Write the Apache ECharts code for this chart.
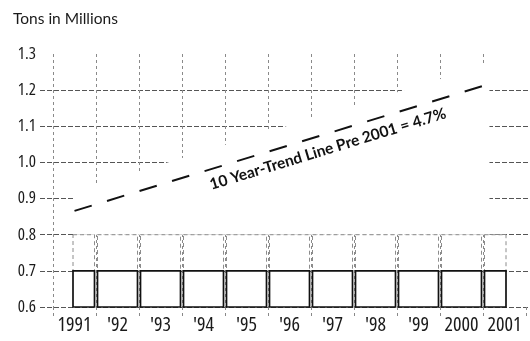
<!DOCTYPE html>
<html>
<head>
<meta charset="utf-8">
<script src="https://cdn.jsdelivr.net/npm/echarts@6/dist/echarts.min.js"></script>
<style>
  html, body { margin: 0; padding: 0; background: #ffffff; }
  #chart { width: 530px; height: 341px; }
</style>
</head>
<body>
<div id="chart"></div>
<script>
// Yearly tonnage blocks, 1991-2001
const years = [1991, 1992, 1993, 1994, 1995, 1996, 1997, 1998, 1999, 2000, 2001];
const yearLabels = ['1991', "'92", "'93", "'94", "'95", "'96", "'97", "'98", "'99", '2000', '2001'];
const lowerTops = [0.7, 0.7, 0.7, 0.7, 0.7, 0.7, 0.7, 0.7, 0.7, 0.7, 0.7];
const upperTops = [0.8, 0.8, 0.8, 0.8, 0.8, 0.8, 0.8, 0.8, 0.8, 0.8, 0.8];

// Ten-year trend line (start and end points)
const trendYears = [1991, 2000.65];
const trendValues = [0.866, 1.217];
const trendLabel = '10 Year-Trend Line Pre 2001 = 4.7%';

// Value axis
const yMin = 0.6;
const yMax = 1.3;
const yStep = 0.1;
const unitTitle = 'Tons in Millions';

// Canvas ignores the width keyword inside the font shorthand, so a font
// string carrying "condensed" is split into font + fontStretch here.
(function () {
  const proto = CanvasRenderingContext2D.prototype;
  const desc = Object.getOwnPropertyDescriptor(proto, 'font');
  if (!desc || !('fontStretch' in proto)) return;
  Object.defineProperty(proto, 'font', {
    configurable: true,
    get: function () { return desc.get.call(this); },
    set: function (v) {
      const narrow = typeof v === 'string' && v.indexOf('condensed') >= 0;
      desc.set.call(this, narrow ? v.replace('condensed', ' ').replace(/\s+/g, ' ').trim() : v);
      this.fontStretch = narrow ? 'condensed' : 'normal';
    }
  });
})();

const NARROW = "'Open Sans', Roboto, sans-serif";
const GEO = "Lato, 'Noto Sans', sans-serif";

const TOP = 54, BOTTOM = 34;

const chart = echarts.init(document.getElementById('chart'), null, { renderer: 'canvas' });

// One block (bar segment) per year, clipped to the plotting area at both ends
function blockItem(style) {
  return function (params, api) {
    const x = api.value(0), lo = api.value(1), hi = api.value(2);
    const band = api.size([1, 0])[0];
    const w = band - 3;
    const pLo = api.coord([x, lo]);
    const pHi = api.coord([x, hi]);
    const cs = params.coordSys;
    const x0 = Math.max(pLo[0] - w / 2, cs.x - 1.5);
    const x1 = Math.min(pLo[0] + w / 2, cs.x + cs.width + 1.5);
    return {
      type: 'rect',
      shape: { x: x0, y: pHi[1], width: x1 - x0, height: pLo[1] - pHi[1] },
      style: style
    };
  };
}

const lowerData = years.map((y, i) => [y, yMin, lowerTops[i]]);
const upperData = years.map((y, i) => [y, lowerTops[i], upperTops[i]]);
const trendData = trendYears.map((y, i) => [y, trendValues[i]]);
const blockTop = Math.max.apply(null, upperTops);

chart.setOption({
  animation: false,
  backgroundColor: '#ffffff',
  title: {
    text: unitTitle,
    left: 8,
    top: 6,
    textStyle: { fontFamily: GEO, fontSize: 15.5, fontWeight: 'normal', color: '#1a1a1a' }
  },
  grid: [
    { left: 40, right: 0, top: TOP, bottom: BOTTOM },
    { left: 53, right: 4, top: TOP, bottom: BOTTOM },
    { left: 74.5, right: 25.5, top: TOP, bottom: BOTTOM }
  ],
  xAxis: [
    { gridIndex: 0, type: 'value', min: 0, max: 1, show: false },
    {
      gridIndex: 1,
      type: 'category',
      data: yearLabels,
      boundaryGap: true,
      axisLine: { show: false },
      axisTick: {
        show: true, interval: 0, length: 12,
        lineStyle: { color: '#888', width: 1, type: [3, 3] }
      },
      axisLabel: {
        interval: 0, margin: 8,
        fontFamily: NARROW, fontWeight: 'condensed', fontSize: 20, color: '#1a1a1a'
      },
      splitLine: {
        show: true, interval: 0, showMaxLine: false,
        lineStyle: { color: '#8a8a8a', width: 1, type: [3, 3] }
      }
    },
    { gridIndex: 2, type: 'value', min: years[0], max: years[years.length - 1], show: false }
  ],
  yAxis: [
    {
      gridIndex: 0,
      type: 'value',
      min: yMin, max: yMax, interval: yStep,
      axisLine: { show: false },
      axisTick: { show: false },
      axisLabel: {
        margin: 4,
        fontFamily: NARROW, fontWeight: 'condensed', fontSize: 17, color: '#1a1a1a',
        formatter: v => v.toFixed(1)
      },
      splitLine: {
        show: true, showMaxLine: false,
        lineStyle: { color: '#555', width: 1, type: [5, 2] }
      }
    },
    { gridIndex: 1, type: 'value', min: yMin, max: yMax, show: false },
    { gridIndex: 2, type: 'value', min: yMin, max: yMax, show: false }
  ],
  series: [
    {
      // white halo that keeps the label zone around the trend line clear
      type: 'custom',
      xAxisIndex: 2, yAxisIndex: 2,
      z: 1,
      silent: true,
      data: [0],
      renderItem: function (params, api) {
        const halo = 0.055;
        const pts = [
          api.coord([trendYears[0], trendValues[0] + halo]),
          api.coord([trendYears[1], trendValues[1] + halo]),
          api.coord([trendYears[1], blockTop]),
          api.coord([trendYears[0], blockTop])
        ];
        return { type: 'polygon', shape: { points: pts }, style: { fill: '#ffffff' } };
      }
    },
    {
      type: 'custom',
      name: 'upper',
      xAxisIndex: 2, yAxisIndex: 2,
      z: 3,
      data: upperData,
      renderItem: blockItem({ fill: '#ffffff', stroke: '#8c8c8c', lineWidth: 1, lineDash: [4, 3] })
    },
    {
      type: 'custom',
      name: 'lower',
      xAxisIndex: 2, yAxisIndex: 2,
      z: 4,
      data: lowerData,
      renderItem: blockItem({ fill: '#ffffff', stroke: '#111111', lineWidth: 1.7 })
    },
    {
      type: 'line',
      name: 'trend',
      xAxisIndex: 2, yAxisIndex: 2,
      z: 5,
      data: trendData,
      symbol: 'none',
      lineStyle: { color: '#111111', width: 2, type: [18, 16] }
    },
    {
      // trend label, set along the line just beneath it
      type: 'custom',
      xAxisIndex: 2, yAxisIndex: 2,
      z: 6,
      silent: true,
      data: [0],
      renderItem: function (params, api) {
        const p0 = api.coord(trendData[0]);
        const p1 = api.coord(trendData[1]);
        const dx = p1[0] - p0[0], dy = p1[1] - p0[1];
        const len = Math.sqrt(dx * dx + dy * dy);
        const t = 0.6, off = 15;
        const cx = p0[0] + dx * t + (-dy / len) * off;
        const cy = p0[1] + dy * t + (dx / len) * off;
        return {
          type: 'text',
          x: cx, y: cy,
          rotation: -Math.atan2(dy, dx),
          style: {
            text: trendLabel,
            font: 'bold 15.5px ' + GEO,
            fill: '#111111',
            align: 'center',
            verticalAlign: 'middle'
          }
        };
      }
    }
  ]
});
</script>
</body>
</html>
